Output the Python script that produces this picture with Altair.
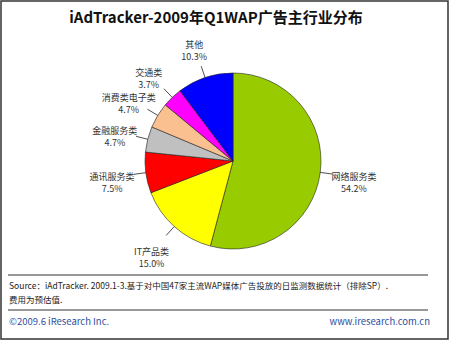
import altair as alt
import pandas as pd

categories = ["网络服务类", "IT产品类", "通讯服务类", "金融服务类", "消费类电子类", "交通类", "其他"]
shares = [54.2, 15.0, 7.5, 4.7, 4.7, 3.7, 10.3]
colors = ["#99cc00", "#ffff00", "#ff0000", "#c0c0c0", "#fac090", "#ff00ff", "#0000ff"]

title_text = "iAdTracker-2009年Q1WAP广告主行业分布"
source_line1 = "Source：iAdTracker. 2009.1-3.基于对中国47家主流WAP媒体广告投放的日监测数据统计（排除SP）."
source_line2 = "费用为预估值."
footer_left = "©2009.6 iResearch Inc."
footer_right = "www.iresearch.com.cn"

df = pd.DataFrame({"cat": categories, "share": shares, "idx": list(range(len(categories)))})

CX, CY, R = 233, 161, 88
LR0, LR1, TR = 88, 100, 122

base = alt.Chart(df).transform_window(
    cum="sum(share)", sort=[alt.SortField("idx")]
).transform_joinaggregate(
    total="sum(share)"
).transform_calculate(
    a0="(datum.cum - datum.share) / datum.total * 2 * PI",
    a1="datum.cum / datum.total * 2 * PI",
).transform_calculate(
    am="(datum.a0 + datum.a1) / 2",
).transform_calculate(
    lx0=f"{CX} + {LR0} * sin(datum.am)",
    ly0=f"{CY} - {LR0} * cos(datum.am)",
    lx1=f"{CX} + {LR1} * sin(datum.am)",
    ly1=f"{CY} - {LR1} * cos(datum.am)",
    tx=f"{CX} + {TR} * sin(datum.am)",
    ty=f"{CY} - {TR} * cos(datum.am)",
    label="datum.cat + '|' + format(datum.share, '.1f') + '%'",
)

pie = base.mark_arc(radius=R, stroke="#222222", strokeWidth=0.6).encode(
    theta=alt.Theta("a0:Q", scale=None),
    theta2="a1:Q",
    color=alt.Color("cat:N", scale=alt.Scale(domain=categories, range=colors), legend=None),
    x=alt.value(CX),
    y=alt.value(CY),
)

leaders = base.mark_rule(color="#222222", strokeWidth=0.8).encode(
    x=alt.X("lx0:Q", scale=None, axis=None),
    y=alt.Y("ly0:Q", scale=None, axis=None),
    x2="lx1:Q",
    y2="ly1:Q",
)

labels = base.mark_text(
    lineBreak="|", fontSize=9, font="Noto Sans CJK SC", color="#333333", lineHeight=12
).encode(
    x=alt.X("tx:Q", scale=None, axis=None),
    y=alt.Y("ty:Q", scale=None, axis=None),
    text="label:N",
)

title = alt.Chart(pd.DataFrame({"t": [title_text]})).mark_text(
    fontSize=15, fontWeight="bold", font="Noto Sans CJK SC", color="#111111"
).encode(x=alt.value(216), y=alt.value(18), text="t:N")

frame = alt.Chart(pd.DataFrame({"a": [0]})).mark_rect(
    fill=None, stroke="#333333", strokeWidth=1.5
).encode(x=alt.value(1), x2=alt.value(448), y=alt.value(1), y2=alt.value(339))

sep = alt.Chart(pd.DataFrame({"yy": [275, 310]})).mark_rule(color="#333333", strokeWidth=1).encode(
    x=alt.value(8), x2=alt.value(428), y=alt.Y("yy:Q", scale=None, axis=None)
)

src1 = alt.Chart(pd.DataFrame({"t": [source_line1]})).mark_text(
    fontSize=8.5, font="Noto Sans CJK SC", color="#222222", align="left"
).encode(x=alt.value(9), y=alt.value(286), text="t:N")
src2 = alt.Chart(pd.DataFrame({"t": [source_line2]})).mark_text(
    fontSize=8.5, font="Noto Sans CJK SC", color="#222222", align="left"
).encode(x=alt.value(9), y=alt.value(300), text="t:N")

foot_l = alt.Chart(pd.DataFrame({"t": [footer_left]})).mark_text(
    fontSize=9.5, font="Noto Sans CJK SC", color="#2f4fa0", align="left"
).encode(x=alt.value(9), y=alt.value(322), text="t:N")
foot_r = alt.Chart(pd.DataFrame({"t": [footer_right]})).mark_text(
    fontSize=9.5, font="Noto Sans CJK SC", color="#2f4fa0", align="right"
).encode(x=alt.value(430), y=alt.value(322), text="t:N")

chart = alt.layer(frame, pie, leaders, labels, title, sep, src1, src2, foot_l, foot_r).properties(
    width=450, height=340, padding=0, autosize="none", background="white"
).configure_view(stroke=None)

chart.save("out.html", embed_options={"renderer": "svg", "actions": False})
